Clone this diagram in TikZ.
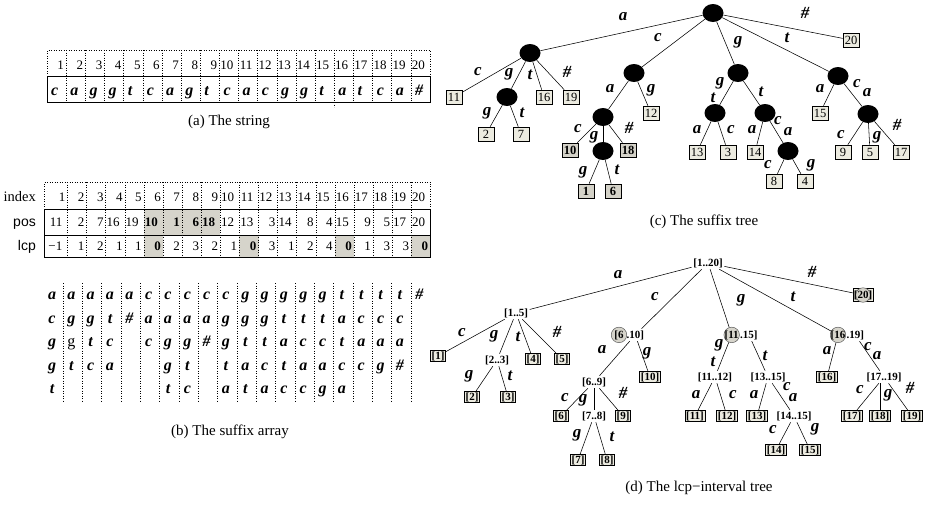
\documentclass[tikz,border=0pt]{standalone}
\usepackage{fontspec}
\setmainfont{Liberation Serif}
\newfontfamily\labsans{Liberation Sans}
\usetikzlibrary{shapes.geometric}

\definecolor{leaflight}{RGB}{236,235,224}
\definecolor{leafdark}{RGB}{212,210,200}
\definecolor{cellshade}{RGB}{214,212,203}
\definecolor{ringfill}{RGB}{214,212,203}

\tikzset{
  capt/.style={font=\fontsize{15}{18}\selectfont, inner sep=0},
  tnum/.style={font=\fontsize{13}{15}\selectfont, inner sep=0, anchor=base east},
  rowlab/.style={font=\fontsize{14.5}{17}\selectfont, inner sep=0, anchor=base east},
  chr/.style={font=\bfseries\itshape\fontsize{16}{18}\selectfont, inner sep=0, anchor=base},
  dotl/.style={dotted, line width=0.5pt},
  boxline/.style={line width=0.7pt},
  inode/.style={ellipse, fill=black, minimum width=21pt, minimum height=18pt, inner sep=0},
  leaf/.style={draw, fill=leaflight, line width=0.6pt, minimum width=16pt, minimum height=14pt, inner sep=1pt, font=\fontsize{12.5}{14}\selectfont},
  leafb/.style={leaf, fill=leafdark, font=\bfseries\fontsize{12.5}{14}\selectfont},
  elab/.style={font=\bfseries\itshape\fontsize{17}{19}\selectfont, inner sep=0},
  conn/.style={line width=0.55pt},
  ival/.style={font=\bfseries\fontsize{11}{13}\selectfont, inner sep=1.5pt},
  ivaltail/.style={ival, inner xsep=0.3pt, anchor=base west},
  ileaf/.style={draw, fill=leaflight, line width=0.6pt, font=\bfseries\fontsize{11}{13}\selectfont, inner sep=1.2pt},
  ring/.style={circle, fill=ringfill, draw=black!65, line width=0.5pt, minimum size=15.5pt, inner sep=-1pt, font=\bfseries\fontsize{11}{13}\selectfont},
}

\begin{document}
\begin{tikzpicture}[x=1pt,y=-1pt]
\fill[white] (0,0) rectangle (927,504);
\useasboundingbox (0,0) rectangle (927,504);

% ---------- (a) the string ----------
\draw[dotl] (47,76) -- (47,50) -- (430,50) -- (430,76);
\foreach \ci in {1,...,19}{
  \draw[dotl] ({47+19.15*\ci},50) -- ({47+19.15*\ci},102);
}
\draw[dotl] ({47+19.15*15},102) -- ({47+19.15*15},107);
\draw[boxline] (47,76) rectangle (430,102);
\foreach \ci in {1,...,20}{
  \pgfmathsetmacro\xr{47+19.15*\ci}
  \ifnum\ci<10
    \node[tnum] (an\ci) at (\xr-2,69.5) {\ci};
  \else
    \node[tnum] (an\ci) at (\xr-5,69.5) {\ci};
  \fi
}
\foreach \ch [count=\ci] in {c,a,g,g,t,c,a,g,t,c,a,c,g,g,t,a,t,c,a,\#}{
  \node[chr, anchor=base west] (as\ci) at ({47+19.15*(\ci-1)+4},95) {\ch};
}
\node[capt] (capa) at (229,122) {(a) The string};

% ---------- (b) the suffix array ----------
\fill[cellshade] ({67.5+19.1*4},209) rectangle ({67.5+19.1*8},235);
\foreach \ci in {6,11,16,20}{
  \fill[cellshade] ({67.5+19.1*(\ci-2)},235) rectangle ({67.5+19.1*(\ci-1)},257);
}
\draw[dotl] (44,209) -- (44,182) -- (430.4,182) -- (430.4,209);
\foreach \ci in {1,...,19}{
  \draw[dotl] ({67.5+19.1*(\ci-1)},182) -- ({67.5+19.1*(\ci-1)},257);
}
\draw[boxline] (44,209) rectangle (430.4,257);
\draw[boxline] (44,235) -- (430.4,235);

\node[rowlab] (lidx) at (36,201.4) {index};
\node[rowlab, font=\labsans\fontsize{14}{16}\selectfont] (lpos) at (36,226.4) {pos};
\node[rowlab, font=\labsans\fontsize{14}{16}\selectfont] (llcp) at (36,250.4) {lcp};

\foreach \ci in {1,...,20}{
  \pgfmathsetmacro\xr{67.5+19.1*(\ci-1)}
  \ifnum\ci<10
    \node[tnum] (bi\ci) at (\xr-2,201.4) {\ci};
  \else
    \node[tnum] (bi\ci) at (\xr-5,201.4) {\ci};
  \fi
}
\foreach \v/\b/\w [count=\ci] in {11/0/2,2/0/1,7/0/1,16/0/2,19/0/2,10/1/2,1/1/1,6/1/1,18/1/2,12/0/2,
                                  13/0/2,3/0/1,14/0/2,8/0/1,4/0/1,15/0/2,9/0/1,5/0/1,17/0/2,20/0/2}{
  \pgfmathsetmacro\xr{67.5+19.1*(\ci-1)-(\w==1 ? 2 : 5)}
  \ifnum\b=1 \def\wt{\bfseries}\else\def\wt{}\fi
  \node[tnum, font=\wt\fontsize{13}{15}\selectfont] (bp\ci) at (\xr,226.4) {\v};
}
\foreach \v/\b/\w [count=\ci] in {−1/0/2,1/0/1,2/0/1,1/0/1,1/0/1,0/1/1,2/0/1,3/0/1,2/0/1,1/0/1,
                                  0/1/1,3/0/1,1/0/1,2/0/1,4/0/1,0/1/1,1/0/1,3/0/1,3/0/1,0/1/1}{
  \pgfmathsetmacro\xr{67.5+19.1*(\ci-1)-(\w==1 ? 2 : 5)}
  \ifnum\b=1 \def\wt{\bfseries}\else\def\wt{}\fi
  \node[tnum, font=\wt\fontsize{13}{15}\selectfont] (bl\ci) at (\xr,250.4) {\v};
}

% sorted suffixes, one column per suffix array entry
\foreach \ci in {1,...,19}{
  \draw[dotl] ({63+19.33*(\ci-1)},283) -- ({63+19.33*(\ci-1)},402);
}
\foreach \ci/\s in {1/{a,c,g,g,t},2/{a,g,{\mdseries\upshape g},t},3/{a,g,t,c},4/{a,t,c,a},5/{a,\#},
                    6/{c,a,c},7/{c,a,g,g,t},8/{c,a,g,t,c},9/{c,a,\#},10/{c,g,g,t,a},
                    11/{g,g,t,a,t},12/{g,g,t,c,a},13/{g,t,a,t,c},14/{g,t,c,a,c},15/{g,t,c,a,g},
                    16/{t,a,t,c,a},17/{t,c,a,c},18/{t,c,a,g},19/{t,c,a,\#},20/{\#}}{
  \foreach \ch [count=\rw] in \s {
    \node[chr] (sf\ci-\rw) at ({52+19.33*(\ci-1)},{299.5+23.5*(\rw-1)}) {\ch};
  }
}
\node[capt] (capb) at (230,432) {(b) The suffix array};

% ---------- (c) the suffix tree ----------
\node[inode] (r) at (713,13) {};
\node[inode] (na) at (530,53) {};
\node[inode] (nc) at (634,73) {};
\node[inode] (ng) at (738,73) {};
\node[inode] (nt) at (838,76) {};
\node[leaf] (l20) at (851,40) {20};
\node[leaf] (l11) at (454,97) {11};
\node[inode] (nag) at (507,97) {};
\node[leaf] (l16) at (544,97) {16};
\node[leaf] (l19) at (571,97) {19};
\node[leaf] (l2) at (486,134) {2};
\node[leaf] (l7) at (521,134) {7};
\node[inode] (nca) at (603,117) {};
\node[leaf] (l12) at (651,113) {12};
\node[leafb] (l10) at (570,150) {10};
\node[inode] (ncag) at (603,151) {};
\node[leafb] (l18) at (628,150) {18};
\node[leafb] (l1) at (586,191) {1};
\node[leafb] (l6) at (613,191) {6};
\node[inode] (ngt) at (715,113) {};
\node[inode] (ngtt) at (765,113) {};
\node[leaf] (l13) at (697,152) {13};
\node[leaf] (l3) at (728,152) {3};
\node[leaf] (l14) at (755,152) {14};
\node[inode] (ngtca) at (788,151) {};
\node[leaf] (l8) at (774,181) {8};
\node[leaf] (l4) at (805,181) {4};
\node[leaf] (l15) at (820,113) {15};
\node[inode] (ntca) at (868,114) {};
\node[leaf] (l9) at (843,152) {9};
\node[leaf] (l5) at (870,152) {5};
\node[leaf] (l17) at (901,152) {17};

\foreach \p/\q in {r/na,r/nc,r/ng,r/nt,r/l20,na/l11,na/nag,na/l16,na/l19,nag/l2,nag/l7,
                   nc/nca,nc/l12,nca/l10,nca/ncag,nca/l18,ncag/l1,ncag/l6,ng/ngt,ng/ngtt,
                   ngt/l13,ngt/l3,ngtt/l14,ngtt/ngtca,ngtca/l8,ngtca/l4,nt/l15,nt/ntca,
                   ntca/l9,ntca/l5,ntca/l17}{
  \draw[conn] (\p) -- (\q);
}

\foreach \nm/\x/\y/\tx in {cA/623/17/a,cC/658/38/c,cG/738/42/g,cT/787/38/t,cH/805/13/\#,
    cAc/478/72/c,cAg/509/74/g,cAt/530/75/t,cAh/567/72/\#,cAGg/487/113/g,cAGt/522/113/t,
    cCa/610/89/a,cCg/651/90/g,cCAc/578/129/c,cCAg/594/137/g,cCAh/629/128/\#,
    cCAGg/583/172/g,cCAGt/617/170/t,cGg/720/83/g,cGtt/713/98/t,cGt/761/92/t,
    cTa/820/89/a,cTc/857/84/c,cTca/867/93/a,cGTa/697/130/a,cGTc/731/130/c,
    cGTTa/752/130/a,cGTTc/778/121/c,cGTTca/788/132/a,cGTCAc/768/165/c,cGTCAg/811/165/g,
    cTCAc/841/135/c,cTCAg/877/137/g,cTCAh/897/125/\#}{
  \node[elab] (\nm) at (\x,\y) {\tx};
}
\node[capt] (capc) at (704,222) {(c) The suffix tree};

% ---------- (d) the lcp-interval tree ----------
\node[ival] (d0) at (708,263) {[1..20]};
\node[ival] (d15) at (516,313) {[1..5]};
% child intervals of the root: left bound in a shaded ring
\node[ring, anchor=base] (r610) at (619,338) {[6};
\node[ivaltail] (d610) at ([xshift=-1pt]r610.base east) {.10]};
\node[ring, anchor=base] (r1115) at (731.7,338) {[11};
\node[ivaltail] (d1115) at (r1115.base east) {.15]};
\node[ring, anchor=base] (r1619) at (838,338) {[16};
\node[ivaltail] (d1619) at (r1619.base east) {.19]};
\node[ileaf, minimum width=20pt, minimum height=13pt] (e20) at (863,295) {};
\node[ring, minimum size=14.5pt, inner sep=-3pt] (r20) at (e20.center) {[20]};

\node[ileaf] (e1) at (438,356) {[1]};
\node[ival] (d23) at (497,360) {[2..3]};
\node[ileaf] (e4) at (533,359) {[4]};
\node[ileaf] (e5) at (562,359) {[5]};
\node[ileaf] (e2) at (472,397) {[2]};
\node[ileaf] (e3) at (508,397) {[3]};
\node[ival] (d69) at (594,382) {[6..9]};
\node[ileaf] (e10) at (650,377) {[10]};
\node[ileaf] (e6) at (561,416) {[6]};
\node[ival] (d78) at (594,416) {[7..8]};
\node[ileaf] (e9) at (623,416) {[9]};
\node[ileaf] (e7) at (578,460) {[7]};
\node[ileaf] (e8) at (607,460) {[8]};
\node[ival] (d1112) at (715,377) {[11..12]};
\node[ival] (d1315) at (768,377) {[13..15]};
\node[ileaf] (e11) at (695,416) {[11]};
\node[ileaf] (e12) at (727,416) {[12]};
\node[ileaf] (e13) at (757,416) {[13]};
\node[ival] (d1415) at (794,416) {[14..15]};
\node[ileaf] (e14) at (776,450) {[14]};
\node[ileaf] (e15) at (810,450) {[15]};
\node[ileaf] (e16) at (827,377) {[16]};
\node[ival] (d1719) at (884,377) {[17..19]};
\node[ileaf] (e17) at (852,416) {[17]};
\node[ileaf] (e18) at (880,416) {[18]};
\node[ileaf] (e19) at (912,416) {[19]};

\foreach \p/\q in {d0/d15,d0/d610,d0/r1115,d0/r1619,d0/e20,d15/e1,d15/d23,d15/e4,d15/e5,
                   d23/e2,d23/e3,d610/d69,d610/e10,d69/e6,d69/d78,d69/e9,d78/e7,d78/e8,
                   r1115/d1112,d1115/d1315,d1112/e11,d1112/e12,d1315/e13,d1315/d1415,
                   d1415/e14,d1415/e15,r1619/e16,d1619/d1719,d1719/e17,d1719/e19}{
  \draw[conn] (\p) -- (\q);
}
\draw[conn] (e18.north |- d1719.south) -- (e18.north);

\foreach \nm/\x/\y/\tx in {dA/618/275/a,dC/655/297/c,dG/741/300/g,dT/793/297/t,dH/812/272/\#,
    dBc/462/333/c,dBg/494/336/g,dBt/518/337/t,dBh/557/332/\#,dEg/469/376/g,dEt/510/376/t,
    dFa/602/350/a,dFg/647/353/g,dKc/565/398/c,dKg/583/400/g,dKh/623/393/\#,
    dMg/577/435/g,dMt/612/437/t,dPg/719/345/g,dPt/713/362/t,dPtt/765/356/t,
    dQa/827/351/a,dQc/868/347/c,dQca/877/356/a,dRa/696/395/a,dRc/733/395/c,
    dSa/754/395/a,dSc/787/387/c,dSca/793/398/a,dUc/773/430/c,dUg/815/429/g,
    dVc/860/390/c,dVg/888/395/g,dVh/910/388/\#}{
  \node[elab] (\nm) at (\x,\y) {\tx};
}
\node[capt] (capd) at (699,488) {(d) The lcp−interval tree};
\end{tikzpicture}
\end{document}
